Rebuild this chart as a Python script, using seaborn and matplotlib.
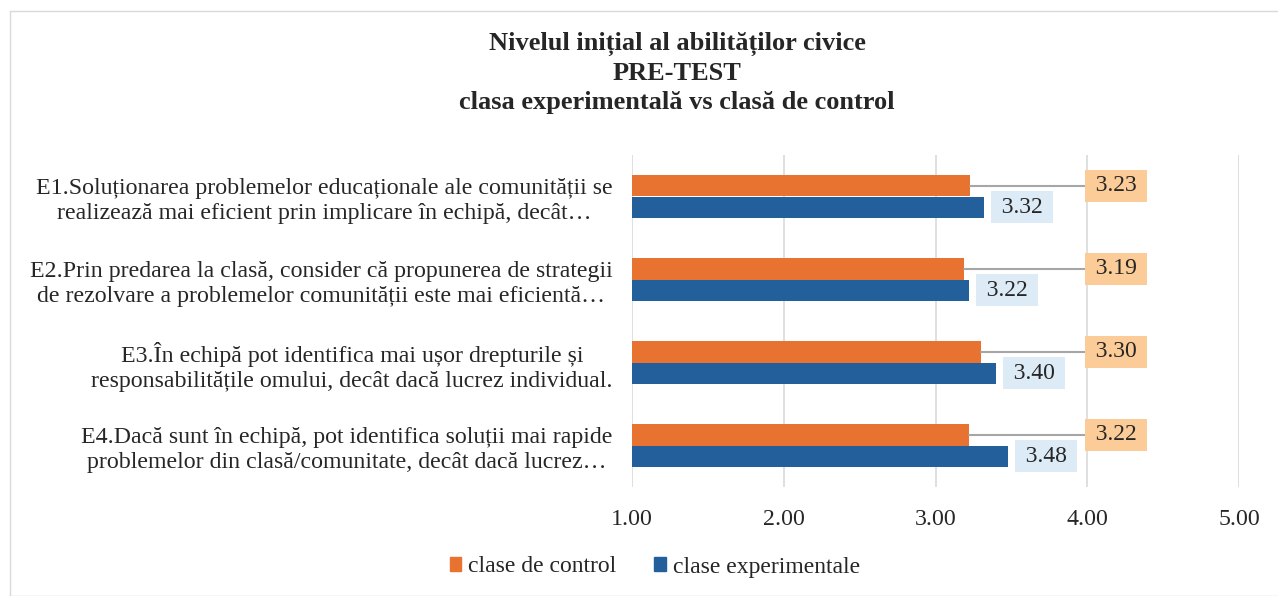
import seaborn as sns
import pandas as pd
import matplotlib.pyplot as plt
from matplotlib.patches import Rectangle

categories = [
    'E1.Soluționarea problemelor educaționale ale comunității se\nrealizează mai eficient prin implicare în echipă, decât…',
    'E2.Prin predarea la clasă, consider că propunerea de strategii\nde rezolvare a problemelor comunității este mai eficientă…',
    'E3.În echipă pot identifica mai ușor drepturile și\nresponsabilitățile omului, decât dacă lucrez individual.',
    'E4.Dacă sunt în echipă, pot identifica soluții mai rapide\nproblemelor din clasă/comunitate, decât dacă lucrez…',
]
control = [3.23, 3.19, 3.30, 3.22]
experimental = [3.32, 3.22, 3.40, 3.48]
series_names = ['clase de control', 'clase experimentale']
x_ticks = [1.00, 2.00, 3.00, 4.00, 5.00]

orange = '#E8722F'
blue = '#23609B'

df = pd.DataFrame({
    'item': categories * 2,
    'valoare': control + experimental,
    'serie': [series_names[0]] * 4 + [series_names[1]] * 4,
})

sns.set_style('white')
plt.rcParams['font.family'] = ['Liberation Serif', 'DejaVu Serif']

fig = plt.figure(figsize=(12.78, 5.96), dpi=100)
fig.patches.append(Rectangle((10 / 1278, 0), 1.0, 1 - 11 / 596, transform=fig.transFigure,
                             fill=False, edgecolor='#D9D9D9', linewidth=1))
ax = fig.add_axes([632 / 1278, 1 - 487 / 596, (1239 - 632) / 1278, (487 - 155) / 596])

sns.barplot(data=df, y='item', x='valoare', hue='serie', hue_order=series_names,
            palette=[orange, blue], width=0.51, ax=ax, legend=False, saturation=1,
            linewidth=0)

ax.set_xlim(1, 5)
ax.set_ylim(3.5, -0.5)
ax.set_xticks(x_ticks)
ax.set_xticklabels([f'{t:.2f}' for t in x_ticks], fontsize=17.2)
ax.set_ylabel('')
ax.set_xlabel('')
ax.tick_params(axis='y', labelsize=17.2, pad=14, length=0)
ax.tick_params(axis='x', pad=16, length=0)
for lab in ax.get_yticklabels():
    lab.set_multialignment('center')
    lab.set_linespacing(1.25)
ax.grid(axis='x', color='#D9D9D9', linewidth=1.2)
ax.set_axisbelow(True)
for s in ax.spines.values():
    s.set_visible(False)

# etichete de date
for bar in ax.containers[0]:
    v = bar.get_width() + bar.get_x()
    y = bar.get_y() + bar.get_height() / 2
    ax.plot([v, 4.0], [y, y], color='#A6A6A6', linewidth=1.5, zorder=1)
    ax.text(4.19, y, f'\u2009{v:.2f}\u2009', ha='center', va='center', fontsize=17,
            bbox=dict(boxstyle='square,pad=0.24', facecolor='#FBCB98', edgecolor='none'))
for bar in ax.containers[1]:
    v = bar.get_width() + bar.get_x()
    y = bar.get_y() + bar.get_height() / 2
    ax.text(v + 0.25, y, f'\u2009{v:.2f}\u2009', ha='center', va='center', fontsize=17,
            bbox=dict(boxstyle='square,pad=0.24', facecolor='#DDEBF7', edgecolor='none'))

fig.text(677 / 1278, 1 - 73 / 596, 'Nivelul inițial al abilităților civice\nPRE-TEST\nclasa experimentală vs clasă de control',
         ha='center', va='center', fontsize=19, fontweight='bold', linespacing=1.33)

handles = [Rectangle((0, 0), 1, 1, color=orange), Rectangle((0, 0), 1, 1, color=blue)]
fig.legend(handles, series_names, loc='center', bbox_to_anchor=(655 / 1278, 1 - 567 / 596),
           ncol=2, frameon=False, fontsize=17, handlelength=0.5, handleheight=0.5,
           handletextpad=0.3, columnspacing=1.6)

fig.savefig('out.png', dpi=100)
